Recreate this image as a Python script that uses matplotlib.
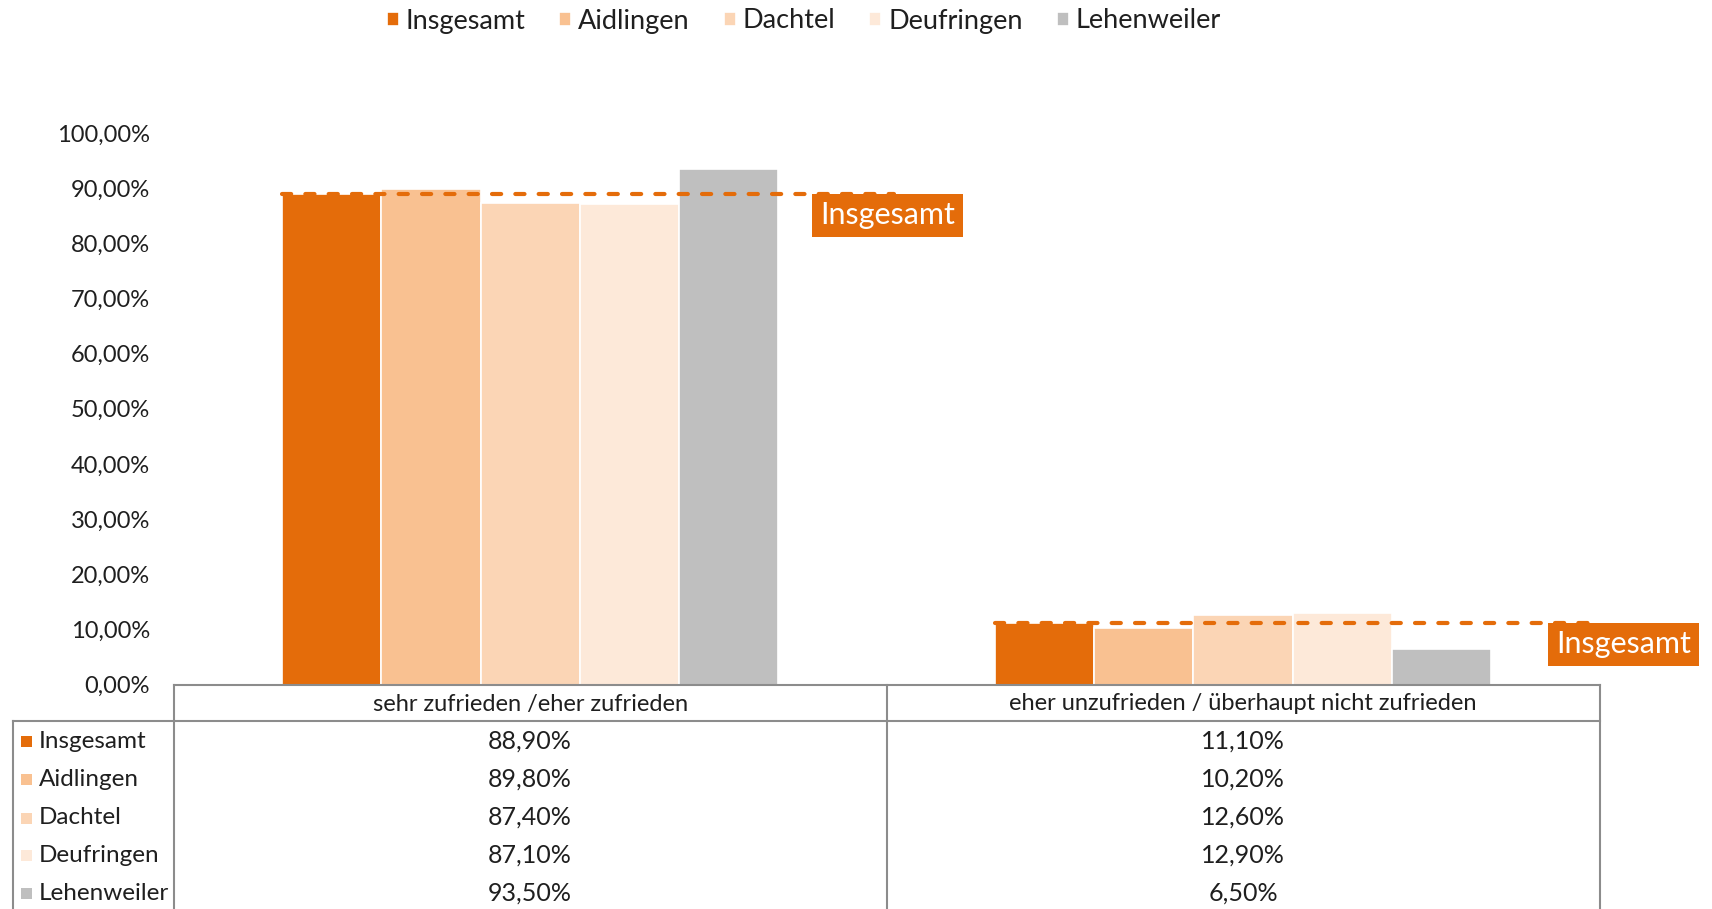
import matplotlib
matplotlib.use("Agg")
import matplotlib.pyplot as plt
from matplotlib.lines import Line2D
from matplotlib.patches import Rectangle
import numpy as np

plt.rcParams['font.family'] = ['Lato', 'DejaVu Sans']

categories = ["sehr zufrieden /eher zufrieden",
              "eher unzufrieden / überhaupt nicht zufrieden"]
series = ["Insgesamt", "Aidlingen", "Dachtel", "Deufringen", "Lehenweiler"]
values = {
    "Insgesamt":   [88.90, 11.10],
    "Aidlingen":   [89.80, 10.20],
    "Dachtel":     [87.40, 12.60],
    "Deufringen":  [87.10, 12.90],
    "Lehenweiler": [93.50, 6.50],
}
colors = ["#E46C0A", "#F9C191", "#FBD5B5", "#FDE9D9", "#BFBFBF"]
reference_series = "Insgesamt"
reference_label = "Insgesamt"
yticks = [0, 10, 20, 30, 40, 50, 60, 70, 80, 90, 100]

W, H = 1712, 909
fig = plt.figure(figsize=(W / 100, H / 100), dpi=100)

def fx(px):
    return px / W

def fy(py):
    return 1 - py / H

ax_left, ax_right, ax_top, ax_bottom = 173.6, 1599.5, 133.0, 684.6
ax = fig.add_axes([fx(ax_left), fy(ax_bottom), fx(ax_right) - fx(ax_left),
                   fy(ax_top) - fy(ax_bottom)])

x = np.arange(len(categories))
bw = 0.139
handles = []
for i, (s, c) in enumerate(zip(series, colors)):
    b = ax.bar(x + (i - 2) * bw, values[s], width=bw, color=c,
               edgecolor="white", linewidth=1.2, label=s, zorder=2)
    handles.append(b)

ax.set_xlim(-0.5, 1.5)
ax.set_ylim(0, 100)
ax.set_yticks(yticks)
ax.set_yticklabels([f"{v:.2f}".replace(".", ",") + "%" for v in yticks],
                   fontsize=17, color="#1F1F1F")
ax.tick_params(axis="y", length=0, pad=17)
ax.set_xticks([])
for sp in ["left", "right", "top"]:
    ax.spines[sp].set_visible(False)
ax.spines["bottom"].set_color("#8C8C8C")
ax.spines["bottom"].set_linewidth(1.5)

# reference (Insgesamt) dashed lines with labels
ref = values[reference_series]
line_ends = [0.51, 0.50]
box_starts = [0.396, 0.428]
box_w = 0.211
box_h = 7.8
for k, v in enumerate(ref):
    ax.plot([x[k] - 2.5 * bw, x[k] + line_ends[k]], [v, v], color="#E46C0A",
            linewidth=3, dashes=(2.2, 3.4), dash_capstyle="round",
            solid_capstyle="round", zorder=3, clip_on=False)
    rect = Rectangle((x[k] + box_starts[k], v - box_h), box_w, box_h,
                     facecolor="#E46C0A", edgecolor="none", zorder=4,
                     clip_on=False)
    ax.add_patch(rect)
    ax.text(x[k] + box_starts[k] + box_w / 2, v - box_h / 2 + 0.2, reference_label,
            color="white", fontsize=22, ha="center", va="center", zorder=5,
            clip_on=False)

# legend
fig.legend(handles=handles, labels=series, loc="center",
           bbox_to_anchor=(0.4694, fy(21)), ncol=5, frameon=False,
           fontsize=19.5, handlelength=0.45, handleheight=0.45, handletextpad=0.25,
           columnspacing=1.25, labelcolor="#1F1F1F")

# data table
lc = "#8C8C8C"
lw = 1.5
tbl_left = 13.0
header_bottom = 720.6
div_x = (ax_left + ax_right) / 2
def hline(x0, x1, y):
    fig.add_artist(Line2D([fx(x0), fx(x1)], [fy(y), fy(y)], color=lc,
                          linewidth=lw, transform=fig.transFigure))
def vline(xp, y0, y1):
    fig.add_artist(Line2D([fx(xp), fx(xp)], [fy(y0), fy(y1)], color=lc,
                          linewidth=lw, transform=fig.transFigure))

hline(tbl_left, ax_right, header_bottom)
for xp in [ax_left, div_x, ax_right]:
    vline(xp, ax_bottom, H + 5)
vline(tbl_left, header_bottom, H + 5)

col_centers = [(ax_left + div_x) / 2, (div_x + ax_right) / 2]
for j, cat in enumerate(categories):
    fig.text(fx(col_centers[j]), fy(704), cat, ha="center", va="center",
             fontsize=17, color="#1F1F1F")

row_y = [741, 779, 817.5, 855, 893]
for i, s in enumerate(series):
    fig.add_artist(Rectangle((fx(21), fy(row_y[i] + 6)), fx(11), 11 / H,
                             facecolor=colors[i], edgecolor="none",
                             transform=fig.transFigure))
    fig.text(fx(39), fy(row_y[i]), s, ha="left", va="center", fontsize=17.5,
             color="#1F1F1F")
    for j in range(len(categories)):
        fig.text(fx(col_centers[j]), fy(row_y[i]),
                 f"{values[s][j]:.2f}".replace(".", ",") + "%",
                 ha="center", va="center", fontsize=18, color="#1F1F1F")

fig.savefig("out.png", dpi=100)
